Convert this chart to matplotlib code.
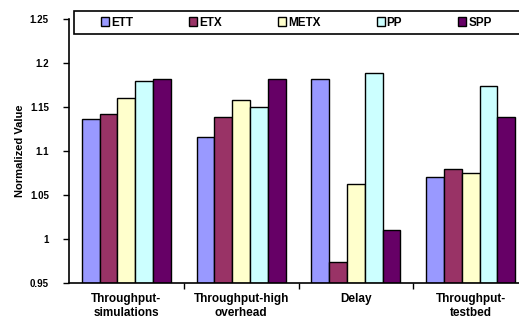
import numpy as np
import matplotlib
matplotlib.use("Agg")
import matplotlib.pyplot as plt
from matplotlib.patches import Rectangle

categories = ["Throughput-\nsimulations", "Throughput-high\noverhead", "Delay", "Throughput-\ntestbed"]
series = ["ETT", "ETX", "METX", "PP", "SPP"]
ett = [1.136, 1.116, 1.182, 1.070]
etx = [1.142, 1.138, 0.974, 1.079]
metx = [1.160, 1.158, 1.062, 1.075]
pp = [1.179, 1.150, 1.188, 1.174]
spp = [1.182, 1.182, 1.010, 1.138]
colors = ["#9999FF", "#993366", "#FFFFCC", "#CCFFFF", "#660066"]
yticks = [0.95, 1, 1.05, 1.1, 1.15, 1.2, 1.25]
ytick_labels = ["0.95", "1", "1.05", "1.1", "1.15", "1.2", "1.25"]

plt.rcParams['font.family'] = ['Liberation Sans', 'DejaVu Sans']
plt.rcParams['font.weight'] = 'bold'

fig = plt.figure(figsize=(5.19, 3.20), dpi=100)
ax = fig.add_axes([69/519, 1-283/320, 459/519, 264.3/320])

x = np.arange(len(categories))
bw = 0.155
values = [ett, etx, metx, pp, spp]
for i, (name, vals) in enumerate(zip(series, values)):
    ax.bar(x + (i - 2) * bw, np.array(vals) - 0.95, bw, bottom=0.95, color=colors[i],
           edgecolor='black', linewidth=1.0, label=name)

ax.set_xlim(-0.5, len(categories) - 0.5)
ax.set_ylim(0.95, 1.25)
ax.set_yticks(yticks)
ax.set_yticklabels(ytick_labels, fontsize=7, fontweight='bold')
ax.set_xticks(x)
ax.set_xticklabels(categories, fontsize=8.5, fontweight='bold')
ax.tick_params(axis='x', length=0, pad=7.5)
ax.set_xticks(np.arange(0.5, len(categories) - 0.5, 1), minor=True)
ax.tick_params(axis='x', which='minor', length=4, width=1.0, direction='out')
ax.tick_params(axis='y', length=4, width=1.0, direction='out', pad=10.5)

ax.spines['top'].set_visible(False)
ax.spines['right'].set_visible(False)
ax.spines['left'].set_linewidth(1.2)
ax.spines['bottom'].set_linewidth(1.2)

ax.set_ylabel("Normalized Value", fontsize=8, fontweight='bold', va='center')
ax.yaxis.set_label_coords(-0.107, 0.5)

# legend box (Excel style, runs off the right edge)
fig.patches.append(Rectangle((74/519, 1-34/320), (530-74)/519, 23/320,
                             transform=fig.transFigure, facecolor='white',
                             edgecolor='black', linewidth=1.2, zorder=2))
handles, labels = ax.get_legend_handles_labels()
leg = fig.legend(handles, labels, ncol=5, loc='center left',
                 bbox_to_anchor=(101/519, 1-22.5/320),
                 fontsize=8.5, frameon=False,
                 handlelength=0.7, handleheight=0.7, handletextpad=0.15,
                 columnspacing=4.75, borderaxespad=0, borderpad=0)
leg.set_zorder(3)
for t in leg.get_texts():
    t.set_fontweight('bold')

fig.savefig("out.png", dpi=100)
